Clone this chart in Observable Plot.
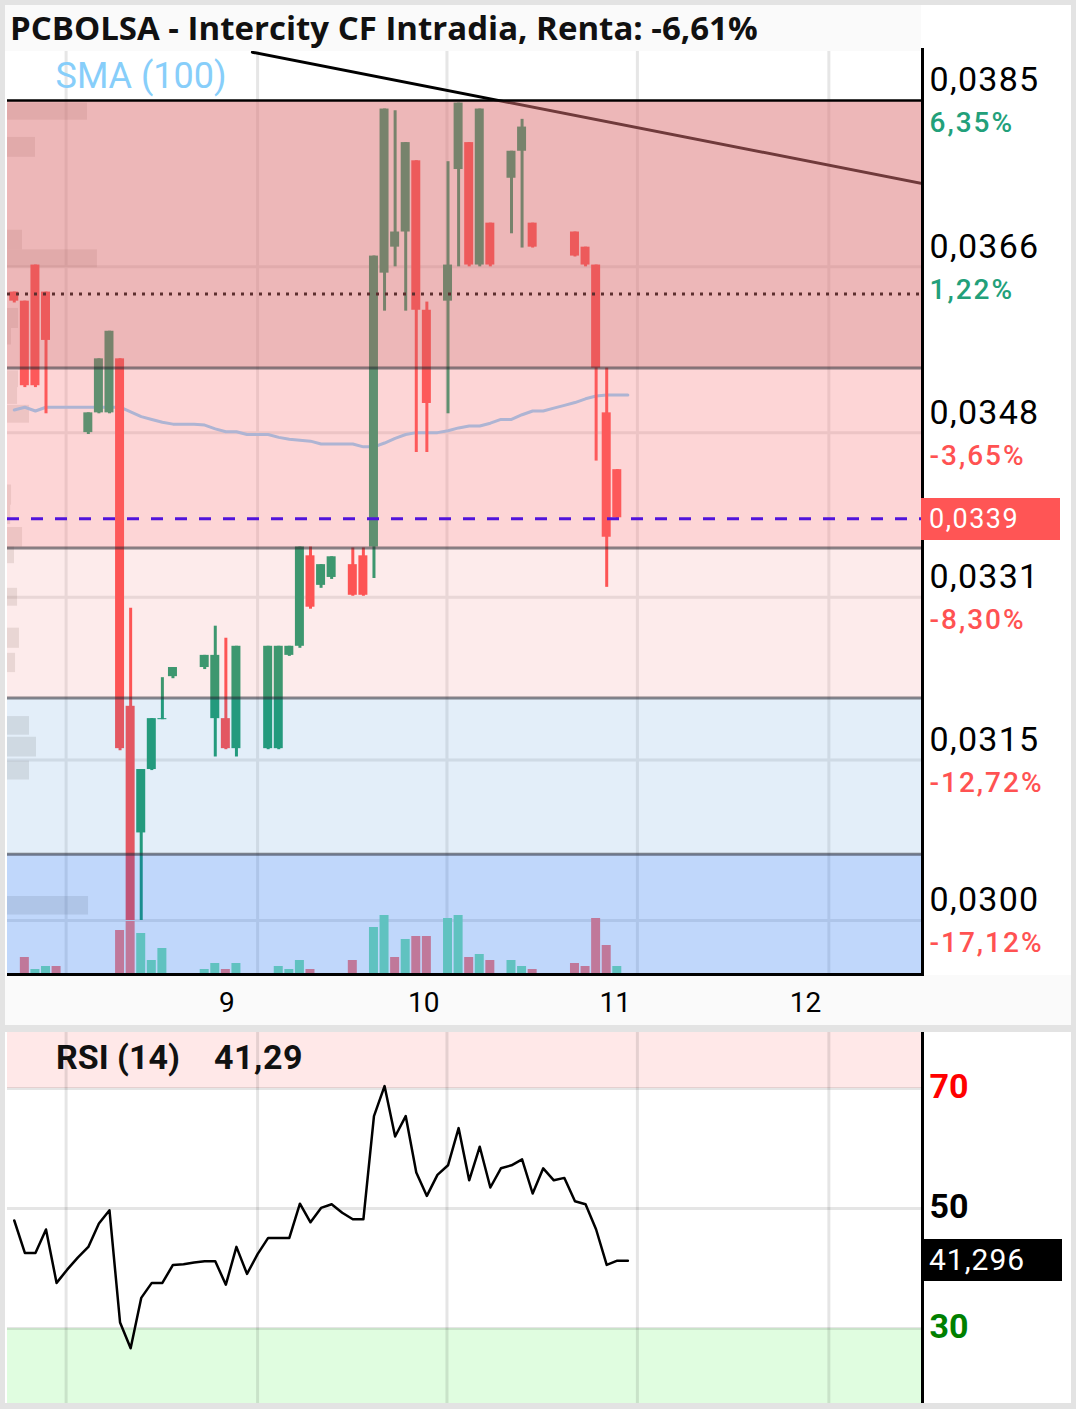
<!DOCTYPE html>
<html><head><meta charset="utf-8">
<script src="https://cdn.jsdelivr.net/npm/d3@7"></script>
<script src="https://cdn.jsdelivr.net/npm/@observablehq/plot@0.6"></script>
<style>
body{margin:0;background:#e3e3e3;width:1076px;height:1409px;position:relative;overflow:hidden;font-family:Roboto,sans-serif}
.abs{position:absolute}
</style></head><body>
<div class="abs" style="left:5px;top:5px;width:1066px;height:1020px;background:#fff"></div>
<div class="abs" style="left:5px;top:975px;width:1066px;height:50px;background:#fafafa"></div>
<div class="abs" style="left:5px;top:1032px;width:1066px;height:371px;background:#fff"></div>
<div id="main" class="abs" style="left:0;top:48px"></div>
<div id="vol" class="abs" style="left:0;top:48px"></div>
<div id="rsi" class="abs" style="left:0;top:1032px"></div>
<div class="abs" style="left:5px;top:5px;width:916px;height:46px;background:#fafafa"></div>
<div class="abs" style="left:10px;top:11px;font:bold 33px 'Open Sans',sans-serif;line-height:1;color:#111;white-space:nowrap">PCBOLSA - Intercity CF Intradia, Renta: -6,61%</div>
<div class="abs" style="left:921px;top:48px;width:3px;height:928px;background:#000"></div>
<div class="abs" style="left:7px;top:973px;width:917px;height:3px;background:#000"></div>
<div class="abs" style="left:921px;top:1032px;width:3px;height:371px;background:#000"></div>
<div class="abs" style="left:56px;top:1040px;font:bold 34px Roboto,sans-serif;line-height:1;color:#111">RSI (14)</div>
<div class="abs" style="left:214px;top:1040px;font:bold 34px Roboto,sans-serif;line-height:1;color:#111;letter-spacing:0.5px">41,29</div>
<div id="pbox" class="abs" style="left:921px;width:139px;height:42px;background:#ff5555;color:#fff;font:27px Roboto,sans-serif;letter-spacing:1.5px;line-height:42px;padding-left:8px;box-sizing:border-box">0,0339</div>
<div id="rbox" class="abs" style="left:921px;width:141px;height:42px;background:#000;color:#fff;font:30px Roboto,sans-serif;letter-spacing:1px;line-height:42px;padding-left:8px;box-sizing:border-box">41,296</div>
<script>
// ---- data (bar index 0..58, 30-min intraday bars) ----
const open  = [0.03632,0.03622,0.03662,0.03632,null,null,null,0.03480,0.03501,0.03501,
               0.03559,0.03202,0.03081,0.03141,0.03189,0.03231,null,null,0.03240,0.03190,
               0.03190,0.03161,null,null,0.03161,0.03161,0.03252,0.03261,0.03352,0.03322,
               0.03330,null,0.03343,0.03352,0.03361,0.03653,0.03682,0.03699,0.03780,0.03612,
               null,0.03622,0.03770,0.03801,0.03662,0.03709,null,0.03760,0.03791,0.03709,
               null,null,null,0.03699,0.03682,0.03662,0.03501,0.03441,null];
const high  = [0.03632,0.03622,0.03662,0.03632,null,null,null,0.03501,0.03559,0.03589,
               0.03559,0.03299,0.03141,0.03190,0.03230,0.03240,null,null,0.03252,0.03281,
               0.03269,0.03261,null,null,0.03261,0.03261,0.03261,0.03361,0.03361,0.03343,
               0.03351,null,0.03360,0.03360,0.03672,0.03840,0.03838,0.03801,0.03780,0.03621,
               null,0.03779,0.03847,0.03801,0.03840,0.03709,null,0.03791,0.03828,0.03709,
               null,null,null,0.03699,0.03682,0.03662,0.03549,0.03441,null];
const low   = [0.03620,0.03528,0.03528,0.03500,null,null,null,0.03478,0.03500,0.03500,
               0.03159,0.03000,0.03000,0.03140,0.03189,0.03229,null,null,0.03238,0.03153,
               0.03160,0.03153,null,null,0.03160,0.03160,0.03251,0.03259,0.03298,0.03319,
               0.03328,null,0.03311,0.03311,0.03329,0.03611,0.03660,0.03611,0.03459,0.03459,
               null,0.03500,0.03660,0.03660,0.03660,0.03660,null,0.03697,0.03681,0.03681,
               null,null,null,0.03671,0.03660,0.03450,0.03320,0.03390,null];
const close = [0.03622,0.03530,0.03530,0.03579,null,null,null,0.03501,0.03559,0.03589,
               0.03161,0.03000,0.03141,0.03190,0.03190,0.03240,null,null,0.03252,0.03252,
               0.03161,0.03261,null,null,0.03261,0.03261,0.03261,0.03361,0.03300,0.03343,
               0.03351,null,0.03312,0.03312,0.03672,0.03840,0.03699,0.03801,0.03612,0.03511,
               null,0.03662,0.03847,0.03662,0.03840,0.03662,null,0.03791,0.03819,0.03682,
               null,null,null,0.03672,0.03662,0.03549,0.03371,0.03391,null];
const sma   = [0.03504,0.03507,0.03503,0.03507,0.03507,0.03507,0.03507,0.03507,0.03507,0.03507,
               0.03507,0.03502,0.03497,0.03494,0.03491,0.03489,0.03489,0.03489,0.03488,0.03484,
               0.03481,0.03481,0.03478,0.03478,0.03478,0.03475,0.03473,0.03472,0.03471,0.03468,
               0.03468,0.03468,0.03468,0.03465,0.03465,0.03469,0.03474,0.03478,0.03480,0.03480,
               0.03480,0.03482,0.03485,0.03487,0.03487,0.03490,0.03494,0.03494,0.03499,0.03503,
               0.03503,0.03506,0.03509,0.03512,0.03516,0.03519,0.03520,0.03520,0.03520];
const rsi   = [48.0,42.6,42.6,46.5,37.6,39.8,41.8,43.6,47.5,49.7,
               31.0,26.7,35.1,37.6,37.6,40.6,40.7,41.0,41.2,41.2,
               37.3,43.6,39.1,42.4,45.1,45.1,45.1,50.8,47.7,50.1,
               50.7,49.3,48.2,48.2,65.4,70.4,62.0,65.4,56.0,52.1,
               55.6,57.2,63.4,54.7,60.3,53.5,56.7,57.2,58.2,52.5,
               56.7,54.7,55.1,51.2,50.7,46.5,40.6,41.3,41.3];
const volume   = [0,16,4,7,7,0,0,0,0,0, 43,52,40,13,25,0,0,0,4,10, 4,10,0,0,0,7,4,13,4,0,
                  0,0,13,0,46,58,16,34,37,37, 0,55,58,16,19,13,0,13,7,4, 0,0,0,10,7,55,28,7,0];
const volumeUp = [0,0,1,1,0,0,0,0,0,0, 0,0,1,1,1,0,0,0,1,1, 0,1,0,0,0,1,1,1,0,0,
                  0,0,0,0,1,1,0,1,0,0, 0,1,1,0,1,0,0,1,1,0, 0,0,0,0,0,0,0,1,0];

const priceTicks  = [0.0385,0.0366,0.0348,0.0331,0.0315,0.0300];
const priceLabels = ["0,0385","0,0366","0,0348","0,0331","0,0315","0,0300"];
const pctLabels   = ["6,35%","1,22%","-3,65%","-8,30%","-12,72%","-17,12%"];
const pctUp       = [true,true,false,false,false,false];
const dayTicks  = [20.1,38.7,56.8,74.8];
const dayLabels = ["9","10","11","12"];
const gridX     = [4.9,23,40.9,58.9,77];

const bandHigh  = [0.03850,0.03549,0.03360,0.03210,0.03061];
const bandLow   = [0.03549,0.03360,0.03210,0.03061,0.02950];
const bandColor = ["rgba(220,114,116,0.51)","rgba(249,131,134,0.34)","rgba(245,155,155,0.2)",
                   "rgba(115,170,225,0.2)","rgba(45,122,242,0.3)"];
const bandEdges = [0.03549,0.03360,0.03210,0.03061];

const profHigh = [0.03847,0.03807,0.03701,0.03679,0.03614,0.03592,0.03546,0.03528,0.03509,0.03425,
                  0.03404,0.03381,0.03361,0.03319,0.03279,0.03254,0.03192,0.03172,0.03149,0.03022];
const profLow  = [0.03827,0.03784,0.03679,0.03659,0.03592,0.03574,0.03528,0.03510,0.03490,0.03404,
                  0.03384,0.03361,0.03344,0.03301,0.03259,0.03235,0.03174,0.03153,0.03131,0.03005];
const profVol  = [7.56,2.65,1.42,8.5,1.04,0.38,1.04,0.95,2.08,0.38,
                  0.3,1.42,0.66,0.95,1.13,0.76,2.08,2.74,2.08,7.66];

const trendI = [22.5, 85.85];
const trendP = [0.03907, 0.03754];
const prevClose = 0.03630;
const lastPrice = 0.0339;
const rsiLevels = [70,50,30];
const rsiLevelColors = ["#ff0000","#000000","#008000"];
const rsiLast = 41.296;

// ---- build tables ----
const bars = d3.range(rsi.length).map(i => ({i, open: open[i], high: high[i], low: low[i], close: close[i],
  sma: sma[i], rsi: rsi[i], vol: volume[i], up: volumeUp[i]}));
const candles = bars.filter(d => d.open != null);
const vols = bars.filter(d => d.vol > 0);
const bands = bandHigh.map((h, k) => ({hi: h, lo: bandLow[k], fill: bandColor[k]}));
const profile = profVol.map((v, k) => ({hi: profHigh[k], lo: profLow[k], v}));
const trend = trendI.map((i, k) => ({i, p: trendP[k]}));

const GREEN = "#109664", RED = "#ff4343";
const W = 1076, xDom = [-0.64, 85.85], bw = 0.425;
const common = {width: W, marginLeft: 7, marginRight: 154,
  x: {domain: xDom, axis: null}, color: {type: "identity"}};

const main = Plot.plot({
  ...common, height: 977, marginTop: 0, marginBottom: 52,
  style: {background: "transparent", fontFamily: "Roboto, sans-serif", overflow: "visible"},
  y: {type: "log", domain: [0.0300, 0.0385], range: [872, 52], axis: null},
  marks: [
    Plot.ruleX(gridX, {stroke: "#e6e6e6", strokeWidth: 3}),
    Plot.ruleY(priceTicks.slice(1), {stroke: "#e6e6e6", strokeWidth: 3}),
    Plot.rect(profile, {x1: xDom[0], x2: d => xDom[0] + d.v, y1: "lo", y2: "hi", fill: "rgba(120,110,100,0.18)"}),
    Plot.line(trend, {x: "i", y: "p", stroke: "#000", strokeWidth: 3, clip: true}),
    Plot.line(bars, {x: "i", y: "sma", stroke: "#87cefa", strokeWidth: 3}),
    Plot.ruleX(candles, {x: "i", y1: "low", y2: "high", strokeWidth: 3,
      stroke: d => d.close >= d.open ? GREEN : RED}),
    Plot.rect(candles, {x1: d => d.i - bw, x2: d => d.i + bw, y1: "open", y2: "close",
      fill: d => d.close >= d.open ? GREEN : RED}),
    Plot.rect(bands, {y1: "lo", y2: "hi", fill: "fill", clip: true}),
    Plot.ruleY(bandEdges, {stroke: "rgba(40,40,50,0.55)", strokeWidth: 3}),
    Plot.ruleY([priceTicks[0]], {stroke: "#000", strokeWidth: 2.5}),
    Plot.ruleY([prevClose], {stroke: "#5c2e2e", strokeWidth: 3, strokeDasharray: "3,6"}),
    Plot.ruleY([lastPrice], {stroke: "#5014dc", strokeWidth: 3, strokeDasharray: "12,12"}),
    Plot.text(priceTicks, {y: d => d, text: (d, i) => priceLabels[i], frameAnchor: "right",
      textAnchor: "start", dx: 7, dy: -20, fontSize: 34, fill: "#000"}),
    Plot.text(priceTicks, {y: d => d, text: (d, i) => pctLabels[i], frameAnchor: "right",
      textAnchor: "start", dx: 7, dy: 23, fontSize: 28, fontWeight: 500,
      fill: (d, i) => pctUp[i] ? "#22a07a" : "#ff5252"}),
    Plot.text(["SMA (100)"], {text: d => d, frameAnchor: "top-left", lineAnchor: "middle",
      dx: 48, dy: 27.5, textAnchor: "start", fontSize: 36, fill: "#87cefa"}),
    Plot.text(dayTicks, {x: d => d, text: (d, i) => dayLabels[i], frameAnchor: "bottom",
      lineAnchor: "middle", dy: 30, fontSize: 28, fill: "#000"})
  ]
});
d3.select(main).selectAll('g[font-size="34"]').style("letter-spacing", "1.3px");
d3.select(main).selectAll('g[font-size="28"]').filter(function(){ return this.getAttribute("text-anchor") === "start"; }).style("letter-spacing", "2px");
document.getElementById("main").appendChild(main);

const volPlot = Plot.plot({
  ...common, height: 977, marginTop: 0, marginBottom: 52,
  style: {background: "transparent"},
  y: {domain: [0, 60], range: [925, 865], axis: null},
  marks: [
    Plot.rect(vols, {x1: d => d.i - bw, x2: d => d.i + bw, y1: 0, y2: "vol",
      fill: d => d.up ? "#60c2c0" : "#c0789a"})
  ]
});
document.getElementById("vol").appendChild(volPlot);

const rsiPlot = Plot.plot({
  ...common, height: 371, marginTop: 0, marginBottom: 0,
  style: {background: "transparent", fontFamily: "Roboto, sans-serif", overflow: "visible"},
  y: {domain: [30, 70], range: [296, 56], axis: null},
  marks: [
    Plot.rect([rsiLevels[0]], {y1: d => d, y2: 100, fill: "#ffe8e8", clip: true}),
    Plot.rect([rsiLevels[2]], {y1: 0, y2: d => d, fill: "#e0fde0", clip: true}),
    Plot.ruleX(gridX, {stroke: "rgba(0,0,0,0.1)", strokeWidth: 3}),
    Plot.ruleY(rsiLevels, {stroke: "rgba(0,0,0,0.1)", strokeWidth: 3}),
    Plot.line(bars, {x: "i", y: "rsi", stroke: "#000", strokeWidth: 2.5}),
    Plot.text(rsiLevels, {y: d => d, text: d => String(d), frameAnchor: "right", textAnchor: "start",
      dx: 7, dy: -1, fontSize: 34, fontWeight: "bold", fill: (d, i) => rsiLevelColors[i]})
  ]
});
document.getElementById("rsi").appendChild(rsiPlot);

// value boxes placed through the plots' own scales
const py = main.scale("y").apply(lastPrice);
document.getElementById("pbox").style.top = (48 + py - 20) + "px";
const ry = rsiPlot.scale("y").apply(rsiLast);
document.getElementById("rbox").style.top = (1032 + ry - 21) + "px";
</script>
</body></html>
